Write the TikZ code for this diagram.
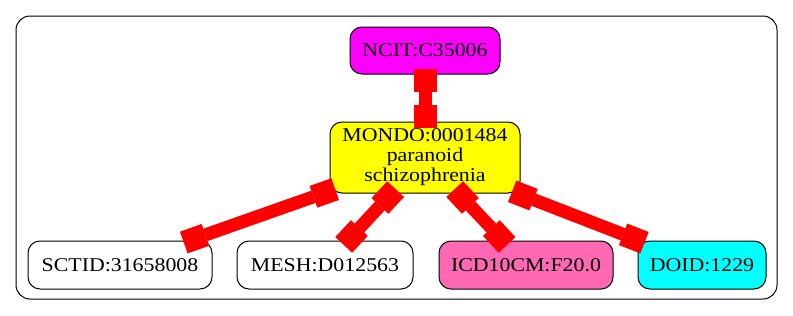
\documentclass[tikz,border=0pt]{standalone}
\usepackage{fontspec}
\setmainfont{Liberation Serif}[FakeStretch=1.12]
\usetikzlibrary{arrows.meta}
\definecolor{termpink}{HTML}{FF69B4}
\definecolor{termmagenta}{HTML}{FF00FF}
\definecolor{termcyan}{HTML}{00FFFF}
\definecolor{termyellow}{HTML}{FFFF00}
\definecolor{linkred}{HTML}{FF0000}
\begin{document}
\begin{tikzpicture}[x=1pt,y=-1pt,
  frame/.style={draw=black, line width=1pt, rounded corners=14pt, inner sep=0pt},
  term/.style={draw=black, line width=1pt, rounded corners=12pt, inner sep=0pt,
    minimum height=48pt, font=\fontsize{19.5}{20}\selectfont, align=center},
  boxtip/.tip={Square[length=23pt 0 0, width=23pt 0 0, line width=0pt 0 0]},
  link/.style={draw=linkred, line width=13pt, boxtip-boxtip,
    shorten <=-6pt, shorten >=-6pt}]
  \useasboundingbox (0,0) rectangle (793,316);

  % cluster frame
  \node[frame, minimum width=761pt, minimum height=283pt] (cluster) at (396.5,157.5) {};

  % terms
  \node[term, fill=termmagenta, minimum width=150pt, minimum height=47pt] (ncit) at (425,50.5) {NCIT:C35006};
  \node[term, fill=termyellow, minimum width=190pt, minimum height=71pt] (mondo) at (425,157.5)
    {MONDO:0001484\\paranoid\\schizophrenia};
  \node[term, fill=white, minimum width=184pt] (sctid) at (120,265) {SCTID:31658008};
  \node[term, fill=white, minimum width=176pt] (mesh) at (325,265) {MESH:D012563};
  \node[term, fill=termpink, minimum width=174pt] (icd) at (526,265) {ICD10CM:F20.0};
  \node[term, fill=termcyan, minimum width=128pt] (doid) at (702,265) {DOID:1229};

  % cross-references
  \draw[link] (ncit) -- (mondo);
  \draw[link] (mondo) -- (sctid);
  \draw[link] (mondo) -- (mesh);
  \draw[link] (mondo) -- (icd);
  \draw[link] (mondo) -- (doid);
\end{tikzpicture}
\end{document}
